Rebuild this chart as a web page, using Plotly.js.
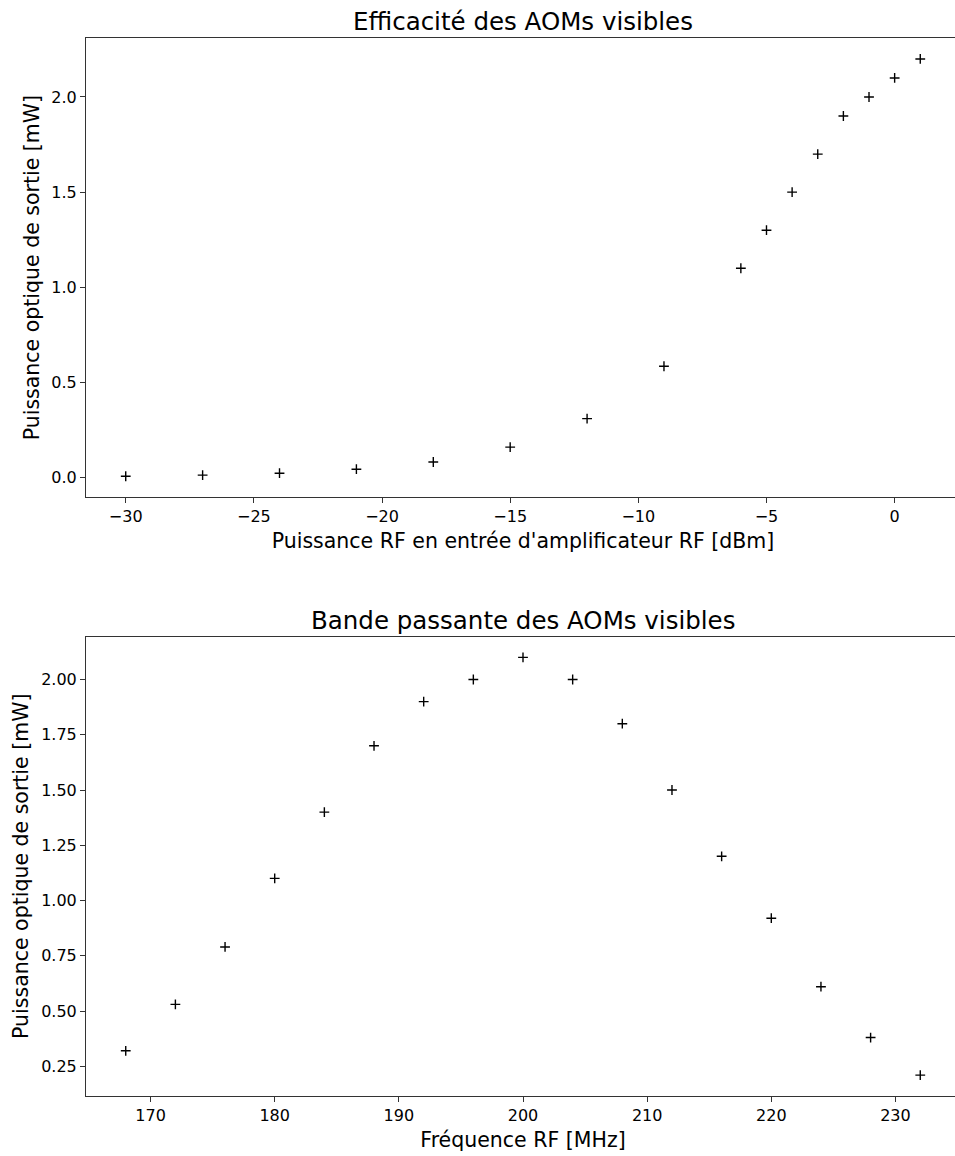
<!DOCTYPE html>
<html>
<head>
<meta charset="utf-8">
<script src="https://cdn.plot.ly/plotly-3.0.1.min.js"></script>
<style>
html, body { margin: 0; padding: 0; overflow: hidden; background: #fff; width: 955px; height: 1156px; }
#chart { width: 962px; height: 1156px; }
</style>
</head>
<body>
<div id="chart"></div>
<script>
// Top plot: efficiency vs RF input power
const rfPower = [-30, -27, -24, -21, -18, -15, -12, -9, -6, -5, -4, -3, -2, -1, 0, 1];
const opticalPowerEff = [0.007, 0.013, 0.023, 0.044, 0.082, 0.16, 0.31, 0.585, 1.1, 1.3, 1.5, 1.7, 1.9, 2.0, 2.1, 2.2];

// Bottom plot: bandwidth vs RF frequency
const rfFreq = [168, 172, 176, 180, 184, 188, 192, 196, 200, 204, 208, 212, 216, 220, 224, 228, 232];
const opticalPowerBw = [0.32, 0.53, 0.79, 1.1, 1.4, 1.7, 1.9, 2.0, 2.1, 2.0, 1.8, 1.5, 1.2, 0.92, 0.61, 0.38, 0.21];

const titles = ["Efficacité des AOMs visibles", "Bande passante des AOMs visibles"];
const xTitles = ["Puissance RF en entrée d'amplificateur RF [dBm]", "Fréquence RF [MHz]"];
const yTitle = "Puissance optique de sortie [mW]";

const FONT = "DejaVu Sans, sans-serif";
const marker = { symbol: "cross-thin", size: 7, color: "#000", line: { width: 1.4, color: "#000" } };

const traces = [
  { x: rfPower, y: opticalPowerEff, type: "scatter", mode: "markers", marker: marker, xaxis: "x", yaxis: "y", hoverinfo: "x+y" },
  { x: rfFreq, y: opticalPowerBw, type: "scatter", mode: "markers", marker: marker, xaxis: "x2", yaxis: "y2", hoverinfo: "x+y" }
];

function axisBase() {
  return {
    showgrid: false, zeroline: false, showline: true, mirror: true,
    linecolor: "#333", linewidth: 1,
    ticks: "outside", ticklen: 5, tickwidth: 1, tickcolor: "#333",
    tickfont: { family: FONT, size: 16, color: "#000" },
    title: { font: { family: FONT, size: 20.5, color: "#000" } }
  };
}

const xa1 = Object.assign(axisBase(), { anchor: "y", domain: [0, 1], range: [-31.55, 2.55], tickvals: [-30, -25, -20, -15, -10, -5, 0], ticktext: ["\u221230", "\u221225", "\u221220", "\u221215", "\u221210", "\u22125", "0"] });
xa1.title.text = xTitles[0]; xa1.title.standoff = 8;
const ya1 = Object.assign(axisBase(), { anchor: "x", domain: [0.5659, 1], range: [-0.1035, 2.31], tickvals: [0, 0.5, 1, 1.5, 2], ticktext: ["0.0", "0.5", "1.0", "1.5", "2.0"] });
ya1.title.text = yTitle; ya1.title.standoff = 6;

const xa2 = Object.assign(axisBase(), { anchor: "y2", domain: [0, 1], range: [164.8, 235.2], tickvals: [170, 180, 190, 200, 210, 220, 230] });
xa2.title.text = xTitles[1]; xa2.title.standoff = 8;
const ya2 = Object.assign(axisBase(), { anchor: "x2", domain: [0, 0.4343], range: [0.1155, 2.1945], tickvals: [0.25, 0.5, 0.75, 1.0, 1.25, 1.5, 1.75, 2.0], ticktext: ["0.25", "0.50", "0.75", "1.00", "1.25", "1.50", "1.75", "2.00"] });
ya2.title.text = yTitle; ya2.title.standoff = 6;

const layout = {
  width: 962, height: 1156,
  margin: { l: 86, r: 2, t: 38, b: 60 },
  paper_bgcolor: "#fff", plot_bgcolor: "#fff",
  showlegend: false,
  font: { family: FONT, color: "#000" },
  xaxis: xa1, yaxis: ya1, xaxis2: xa2, yaxis2: ya2,
  annotations: [
    { text: titles[0], xref: "paper", yref: "paper", x: 0.5, y: 1, yshift: 0, xanchor: "center", yanchor: "bottom", showarrow: false, font: { family: FONT, size: 24.5, color: "#000" } },
    { text: titles[1], xref: "paper", yref: "paper", x: 0.5, y: 0.4343, yshift: 0, xanchor: "center", yanchor: "bottom", showarrow: false, font: { family: FONT, size: 24.5, color: "#000" } }
  ]
};

Plotly.newPlot("chart", traces, layout, { staticPlot: true, displayModeBar: false });
</script>
</body>
</html>
